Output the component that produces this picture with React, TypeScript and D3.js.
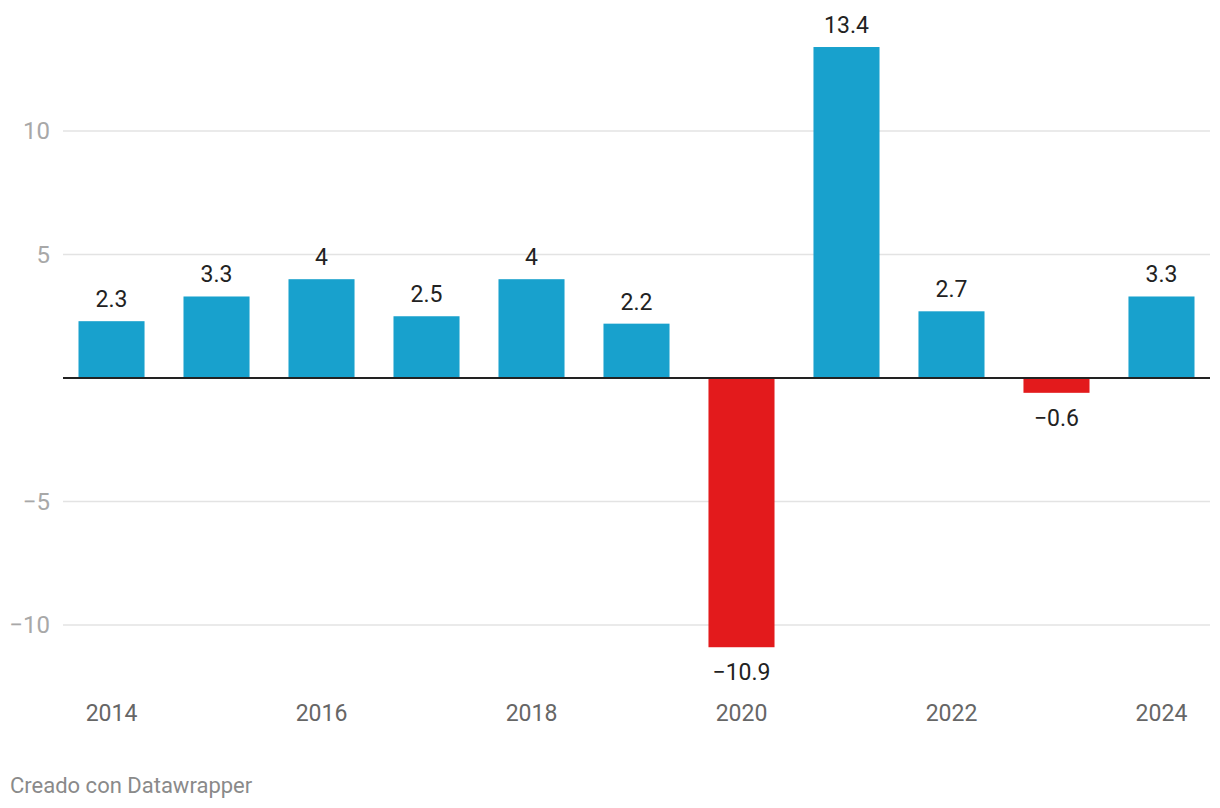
import React from "react";
import * as d3 from "d3";

const years = ["2014","2015","2016","2017","2018","2019","2020","2021","2022","2023","2024"];
const values = [2.3, 3.3, 4, 2.5, 4, 2.2, -10.9, 13.4, 2.7, -0.6, 3.3];
const yTicks = [-10, -5, 5, 10];
const xLabelYears = ["2014","2016","2018","2020","2022","2024"];

const W = 1220, H = 808;
const fmt = (v: number) => (v < 0 ? "\u2212" + Math.abs(v) : String(v));

export default function App() {
  const x = d3.scaleBand<string>().domain(years).range([59, 1214]).paddingInner(0.371).paddingOuter(0.1857);
  const y = d3.scaleLinear().domain([-10, 10]).range([625, 131]);
  const gx0 = 63, gx1 = 1210;
  const font = "Roboto, sans-serif";
  return (
    <svg width={W} height={H} style={{ position: "absolute", left: 0, top: 0, background: "#fff" }}>
      {yTicks.map(t => (
        <g key={t}>
          <line x1={gx0} x2={gx1} y1={y(t)} y2={y(t)} stroke="#e3e3e3" strokeWidth={1.5} />
          <text x={50} y={y(t)} dy="0.35em" textAnchor="end" fontFamily={font} fontSize={24} fill="#a8a8a8">{fmt(t)}</text>
        </g>
      ))}
      {years.map((yr, i) => {
        const v = values[i];
        const y0 = y(0), y1 = y(v);
        const top = Math.min(y0, y1), h = Math.abs(y1 - y0);
        const cx = (x(yr) as number) + x.bandwidth() / 2;
        return (
          <g key={yr}>
            <rect x={x(yr)} y={top} width={x.bandwidth()} height={h} fill={v < 0 ? "#e31a1c" : "#18a1cd"} />
            <text x={cx} y={v < 0 ? y1 + 33 : y1 - 14} textAnchor="middle" fontFamily={font} fontSize={23} fill="#222">{fmt(v)}</text>
          </g>
        );
      })}
      <line x1={gx0} x2={gx1} y1={y(0)} y2={y(0)} stroke="#222" strokeWidth={2} />
      {xLabelYears.map(yr => (
        <text key={yr} x={(x(yr) as number) + x.bandwidth() / 2} y={720.5} textAnchor="middle" fontFamily={font} fontSize={23} fill="#666">{yr}</text>
      ))}
      <text x={10} y={793} fontFamily={font} fontSize={22} fill="#8a8a8a">Creado con Datawrapper</text>
    </svg>
  );
}
